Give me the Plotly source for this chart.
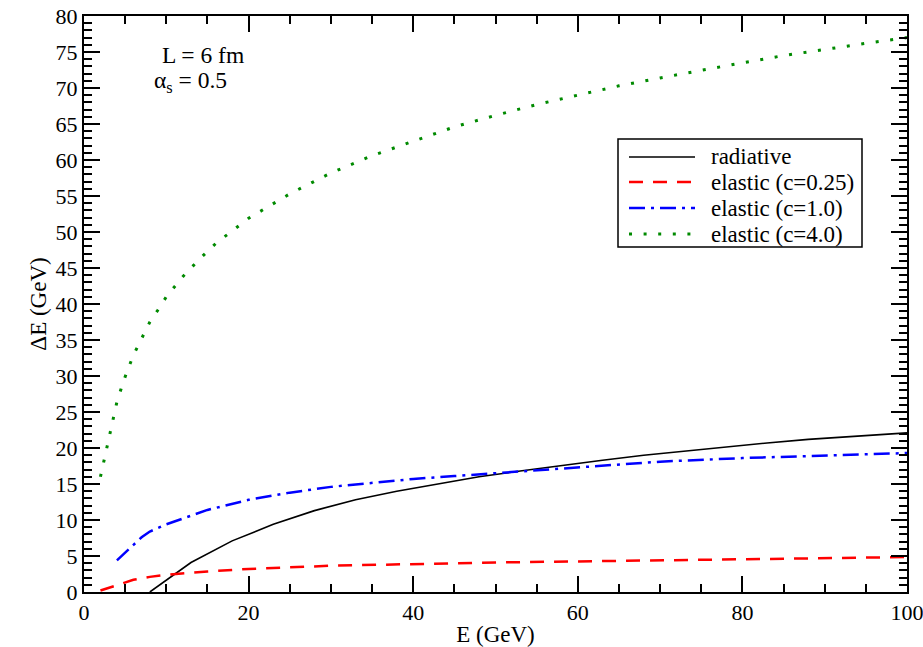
import plotly.graph_objects as go

# ---- data ----
E_rad = [8, 13, 18, 23, 28, 33, 38, 43, 48, 53, 58, 63, 68, 73, 78, 83, 88, 93, 98, 100]
dE_rad = [0.0, 4.1, 7.1, 9.4, 11.3, 12.8, 14.0, 15.0, 16.0, 16.8, 17.6, 18.3, 19.0, 19.6,
          20.2, 20.7, 21.2, 21.6, 22.0, 22.1]

E_c025 = [2, 3, 4, 5, 6, 8, 10, 15, 20, 30, 40, 50, 60, 70, 80, 90, 100]
dE_c025 = [0.2, 0.6, 1.0, 1.35, 1.7, 2.1, 2.4, 2.85, 3.2, 3.65, 3.9, 4.1, 4.25, 4.4, 4.55, 4.7, 4.85]

E_c1 = [4, 5, 6, 7, 8, 10, 12, 15, 20, 25, 30, 35, 40, 45, 50, 60, 70, 80, 90, 100]
dE_c1 = [4.4, 5.5, 6.6, 7.6, 8.4, 9.4, 10.2, 11.4, 12.8, 13.8, 14.6, 15.2, 15.7, 16.1, 16.5,
         17.4, 18.1, 18.6, 19.0, 19.3]

E_c4 = [2, 2.5, 3, 3.5, 4, 4.5, 5, 6, 7, 8, 9, 10, 12, 14, 16, 18, 20, 25, 30, 35, 40, 45,
        50, 55, 60, 65, 70, 75, 80, 85, 90, 95, 100]
dE_c4 = [16.0, 18.7, 21.0, 23.6, 26.4, 28.2, 29.9, 32.9, 35.3, 37.5, 39.2, 41.0, 43.8, 46.2,
         48.4, 50.2, 51.9, 55.3, 58.2, 60.6, 62.6, 64.6, 66.2, 67.7, 69.0, 70.3, 71.4, 72.5,
         73.5, 74.5, 75.4, 76.2, 77.0]

names = ["radiative", "elastic (c=0.25)", "elastic (c=1.0)", "elastic (c=4.0)"]

FONT = "Liberation Serif"
styles = [
    dict(color="black", width=1.6),
    dict(color="#ff0000", width=2.5, dash="14px,10px"),
    dict(color="#0000ff", width=2.5, dash="16px,6px,3px,6px"),
    dict(color="#008a00", width=3, dash="3px,11.6px"),
]
series = [(E_rad, dE_rad), (E_c025, dE_c025), (E_c1, dE_c1), (E_c4, dE_c4)]

fig = go.Figure()
for (xs, ys), nm, st in zip(series, names, styles):
    fig.add_trace(go.Scatter(x=xs, y=ys, mode="lines", name=nm, line=st, showlegend=False,
                             hoverinfo="skip"))

axis_common = dict(
    showgrid=False, zeroline=False, showline=True, linecolor="black", linewidth=2,
    mirror="ticks", ticks="inside", ticklen=16, tickwidth=1.5, tickcolor="black",
    tickfont=dict(family=FONT, size=22, color="black"), ticklabeloverflow="allow",
)

fig.update_xaxes(range=[0, 100], dtick=20, tick0=0,
                 minor=dict(dtick=5, ticks="inside", ticklen=8, tickwidth=1.5, tickcolor="black"),
                 title=dict(text="E (GeV)", font=dict(family=FONT, size=23, color="black"), standoff=4),
                 **axis_common)
fig.update_yaxes(range=[0, 80], dtick=5, tick0=0,
                 minor=dict(dtick=1, ticks="inside", ticklen=8, tickwidth=1.5, tickcolor="black"),
                 title=dict(text="ΔE (GeV)", font=dict(family=FONT, size=23, color="black"), standoff=3),
                 **axis_common)

# plot-area geometry (pixels) for placing the hand-drawn legend
PX0, PW, PY1, PH = 84, 823, 592, 576
def px(x):
    return (x - PX0) / PW
def py(y):
    return (PY1 - y) / PH

# legend box
fig.add_shape(type="rect", xref="paper", yref="paper",
              x0=px(618), x1=px(862), y0=py(247), y1=py(139),
              line=dict(color="black", width=1.5), fillcolor="white", layer="below")
row_y = [157, 182, 208, 234]
for nm, st, yy in zip(names, styles, row_y):
    fig.add_shape(type="line", xref="paper", yref="paper",
                  x0=px(629), x1=px(695), y0=py(yy), y1=py(yy), line=st)
    fig.add_annotation(text=nm, xref="paper", yref="paper", x=px(709), y=py(yy),
                       xanchor="left", yanchor="middle", showarrow=False,
                       font=dict(family=FONT, size=23, color="black"))

fig.add_annotation(text="L = 6 fm", xref="paper", yref="paper", x=px(160), y=py(55),
                   xanchor="left", yanchor="middle", showarrow=False,
                   font=dict(family=FONT, size=23.5, color="black"))
fig.add_annotation(text="α<sub>s</sub> = 0.5", xref="paper", yref="paper", x=px(152), y=py(82),
                   xanchor="left", yanchor="middle", showarrow=False,
                   font=dict(family=FONT, size=23.5, color="black"))

fig.update_layout(
    width=923, height=647,
    margin=dict(l=84, r=16, t=16, b=55, autoexpand=False),
    paper_bgcolor="white", plot_bgcolor="white",
    showlegend=False, hovermode=False,
)

fig.write_html("out.html", config={"displayModeBar": False},
               post_script="document.body.style.margin='0px';")
